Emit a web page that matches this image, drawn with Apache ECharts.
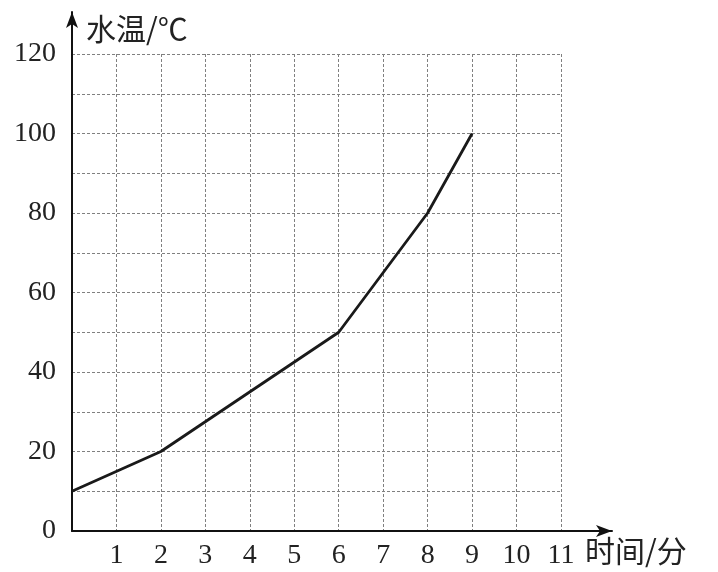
<!DOCTYPE html>
<html><head><meta charset="utf-8">
<script src="https://cdn.jsdelivr.net/npm/echarts@6/dist/echarts.min.js"></script>
<style>html,body{margin:0;padding:0;background:#fff}#c{width:718px;height:572px}</style>
</head><body><div id="c"></div>
<script>
const timeMin = [0, 2, 6, 8, 9];
const waterTemp = [10, 20, 50, 80, 100];
const xTicks = [1,2,3,4,5,6,7,8,9,10,11];
const yTicks = [0,20,40,60,80,100,120];
const yName = '水温/℃';
const xName = '时间/分';

const chart = echarts.init(document.getElementById('c'));
const numFont = {fontFamily:'Liberation Serif', fontSize:28, color:'#222'};
const cjkFont = {fontFamily:'Noto Sans CJK SC', fontSize:30, color:'#222'};
const dashed = {show:true, lineStyle:{color:'#808080', width:1, type:[3,2]}};
const xMax = xTicks[xTicks.length-1], yMax = yTicks[yTicks.length-1];
const g1 = {left:72, top:54, width:489, height:477};
const g2 = {left:72, top:12, width:540, height:519};
chart.setOption({
  animation:false,
  grid:[g1, g2],
  xAxis:[
    {gridIndex:0, type:'value', min:0, max:xMax, interval:1,
     axisLine:{show:false}, axisTick:{show:false}, splitLine:dashed,
     axisLabel:Object.assign({margin:11, formatter:v=>xTicks.includes(v)?String(v):''}, numFont)},
    {gridIndex:1, type:'value', min:0, max:xMax*g2.width/g1.width,
     axisLine:{show:true, symbol:['none','arrow'], symbolSize:[9,16], lineStyle:{color:'#111', width:2}},
     axisTick:{show:false}, axisLabel:{show:false}, splitLine:{show:false},
     name:xName, nameLocation:'end', nameGap:-27,
     nameTextStyle:Object.assign({align:'left', verticalAlign:'top', padding:[5,0,0,0]}, cjkFont)}
  ],
  yAxis:[
    {gridIndex:0, type:'value', min:0, max:yMax, interval:10,
     axisLine:{show:false}, axisTick:{show:false}, splitLine:dashed,
     axisLabel:Object.assign({margin:16, formatter:v=>yTicks.includes(v)?String(v):''}, numFont)},
    {gridIndex:1, type:'value', min:0, max:yMax*g2.height/g1.height,
     axisLine:{show:true, symbol:['none','arrow'], symbolSize:[9,16], lineStyle:{color:'#111', width:2}},
     axisTick:{show:false}, axisLabel:{show:false}, splitLine:{show:false},
     name:yName, nameLocation:'end', nameGap:0,
     nameTextStyle:Object.assign({align:'left', verticalAlign:'top', padding:[2,0,0,14]}, cjkFont)}
  ],
  series:[{
    type:'line', xAxisIndex:0, yAxisIndex:0,
    data:timeMin.map((t,i)=>[t, waterTemp[i]]),
    showSymbol:false, symbol:'none',
    lineStyle:{color:'#1a1a1a', width:2.8}
  }]
});
</script></body></html>
